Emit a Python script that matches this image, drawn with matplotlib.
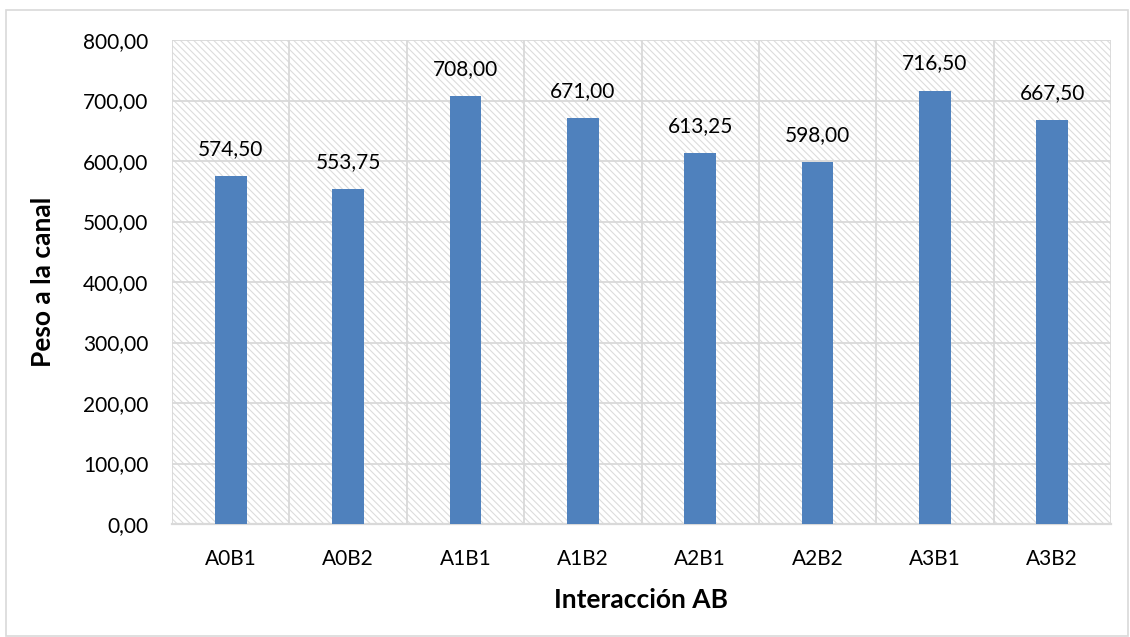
import matplotlib
matplotlib.use("Agg")
import matplotlib.pyplot as plt
from matplotlib.patches import Rectangle

plt.rcParams['font.family'] = ['Lato', 'DejaVu Sans']
plt.rcParams['hatch.linewidth'] = 0.8

categories = ["A0B1", "A0B2", "A1B1", "A1B2", "A2B1", "A2B2", "A3B1", "A3B2"]
values = [574.50, 553.75, 708.00, 671.00, 613.25, 598.00, 716.50, 667.50]
yticks = [0, 100, 200, 300, 400, 500, 600, 700, 800]

fig = plt.figure(figsize=(11.30, 6.37), dpi=100)
fig.patches.append(Rectangle((6/1130, 1/637), 1122/1130, 626/637, transform=fig.transFigure,
                             fill=False, edgecolor='#d9d9d9', linewidth=1.2))
ax = fig.add_axes([172/1130, 1 - 524/637, 939/1130, 484/637])

ax.add_patch(Rectangle((0, 0), 1, 1, transform=ax.transAxes, facecolor='white',
                       edgecolor='#dcdcdc', linewidth=0, hatch='\\\\\\\\\\', zorder=0))

x = list(range(len(categories)))
bars = ax.bar(x, values, width=0.27, color='#4f81bd', zorder=3)
for xi, v in zip(x, values):
    ax.text(xi, v + 28, f"{v:.2f}".replace('.', ','), ha='center', va='bottom', fontsize=15, zorder=4)

ax.set_xlim(-0.5, len(categories) - 0.5)
ax.set_ylim(0, 800)
ax.set_yticks(yticks)
ax.set_yticklabels([f"{t:.2f}".replace('.', ',') for t in yticks], fontsize=15)
ax.set_xticks(x)
ax.set_xticklabels(categories, fontsize=15)
ax.set_xticks([i + 0.5 for i in range(-1, len(categories))], minor=True)
ax.tick_params(axis='both', which='both', length=0)
ax.tick_params(axis='y', pad=17)
ax.tick_params(axis='x', pad=18)
ax.grid(True, axis='y', which='major', color='#d9d9d9', linewidth=1.3, zorder=1)
ax.grid(True, axis='x', which='minor', color='#d9d9d9', linewidth=1.3, zorder=1)
ax.grid(False, axis='x', which='major')
for s in ['top', 'right', 'left']:
    ax.spines[s].set_visible(False)
ax.spines['bottom'].set_color('#d9d9d9')
ax.spines['bottom'].set_linewidth(1.6)

ax.set_xlabel("Interacción AB", fontsize=19, fontweight='bold', labelpad=14)
ax.set_ylabel("Peso a la canal", fontsize=19, fontweight='bold', labelpad=20)

fig.savefig("out.png", dpi=100)
